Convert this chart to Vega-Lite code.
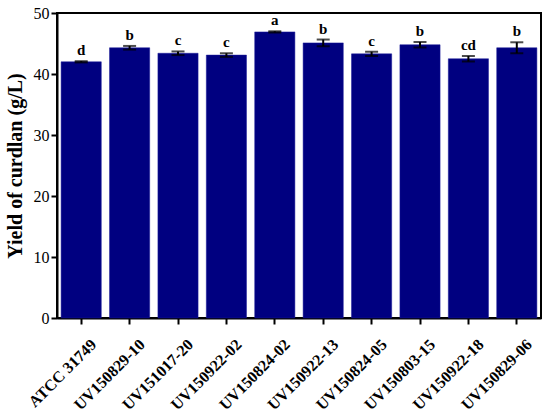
{
  "$schema": "https://vega.github.io/schema/vega-lite/v6.json",
  "autosize": "none",
  "width": 484,
  "height": 305,
  "padding": {"left": 57, "top": 13, "right": 9, "bottom": 98},
  "background": "white",
  "config": {
    "view": {"stroke": "black", "strokeWidth": 2},
    "font": "Liberation Serif"
  },
  "data": {
    "values": [
      {"strain": "ATCC 31749", "yield": 42.0, "err": 0.1, "group": "d"},
      {"strain": "UV150829-10", "yield": 44.3, "err": 0.3, "group": "b"},
      {"strain": "UV151017-20", "yield": 43.4, "err": 0.3, "group": "c"},
      {"strain": "UV150922-02", "yield": 43.1, "err": 0.3, "group": "c"},
      {"strain": "UV150824-02", "yield": 46.9, "err": 0.1, "group": "a"},
      {"strain": "UV150922-13", "yield": 45.1, "err": 0.55, "group": "b"},
      {"strain": "UV150824-05", "yield": 43.3, "err": 0.35, "group": "c"},
      {"strain": "UV150803-15", "yield": 44.8, "err": 0.45, "group": "b"},
      {"strain": "UV150922-18", "yield": 42.5, "err": 0.45, "group": "cd"},
      {"strain": "UV150829-06", "yield": 44.3, "err": 0.9, "group": "b"}
    ]
  },
  "transform": [
    {"calculate": "datum.yield - datum.err", "as": "lo"},
    {"calculate": "datum.yield + datum.err", "as": "hi"}
  ],
  "encoding": {
    "x": {
      "field": "strain",
      "type": "nominal",
      "sort": null,
      "scale": {"paddingInner": 0.17, "paddingOuter": 0.085},
      "axis": {
        "title": null,
        "labelAngle": -45,
        "labelFont": "Liberation Serif",
        "labelFontSize": 16,
        "labelFontWeight": "bold",
        "labelColor": "black",
        "domainColor": "black",
        "domainWidth": 2,
        "tickColor": "black",
        "tickWidth": 2,
        "tickSize": 6,
        "labelPadding": 12,
        "labelOffset": 7
      }
    }
  },
  "layer": [
    {
      "mark": {"type": "bar", "color": "#000080", "stroke": "#1a1a99", "strokeWidth": 0.5},
      "encoding": {
        "y": {
          "field": "yield",
          "type": "quantitative",
          "title": "Yield of curdlan (g/L)",
          "scale": {"domain": [0, 50], "nice": false},
          "axis": {
            "title": "Yield of curdlan (g/L)",
            "titleFont": "Liberation Serif",
            "titleFontSize": 20,
            "titleFontWeight": "bold",
            "titleColor": "black",
            "titlePadding": 8,
            "values": [0, 10, 20, 30, 40, 50],
            "labelFont": "Liberation Serif",
            "labelFontSize": 16,
            "labelColor": "black",
            "domainColor": "black",
            "domainWidth": 2,
            "tickColor": "black",
            "tickWidth": 2,
            "tickSize": 6,
            "grid": false,
            "labelPadding": 2
          }
        }
      }
    },
    {
      "mark": {"type": "errorbar", "ticks": {"size": 13, "thickness": 2, "color": "black"}, "rule": {"strokeWidth": 2, "color": "black"}},
      "encoding": {
        "y": {"field": "lo", "type": "quantitative", "title": "Yield of curdlan (g/L)"},
        "y2": {"field": "hi"}
      }
    },
    {
      "mark": {"type": "text", "baseline": "bottom", "dy": -3, "font": "Liberation Serif", "fontSize": 15, "fontWeight": "bold", "color": "black"},
      "encoding": {
        "y": {"field": "hi", "type": "quantitative", "title": "Yield of curdlan (g/L)"},
        "text": {"field": "group"}
      }
    }
  ]
}
